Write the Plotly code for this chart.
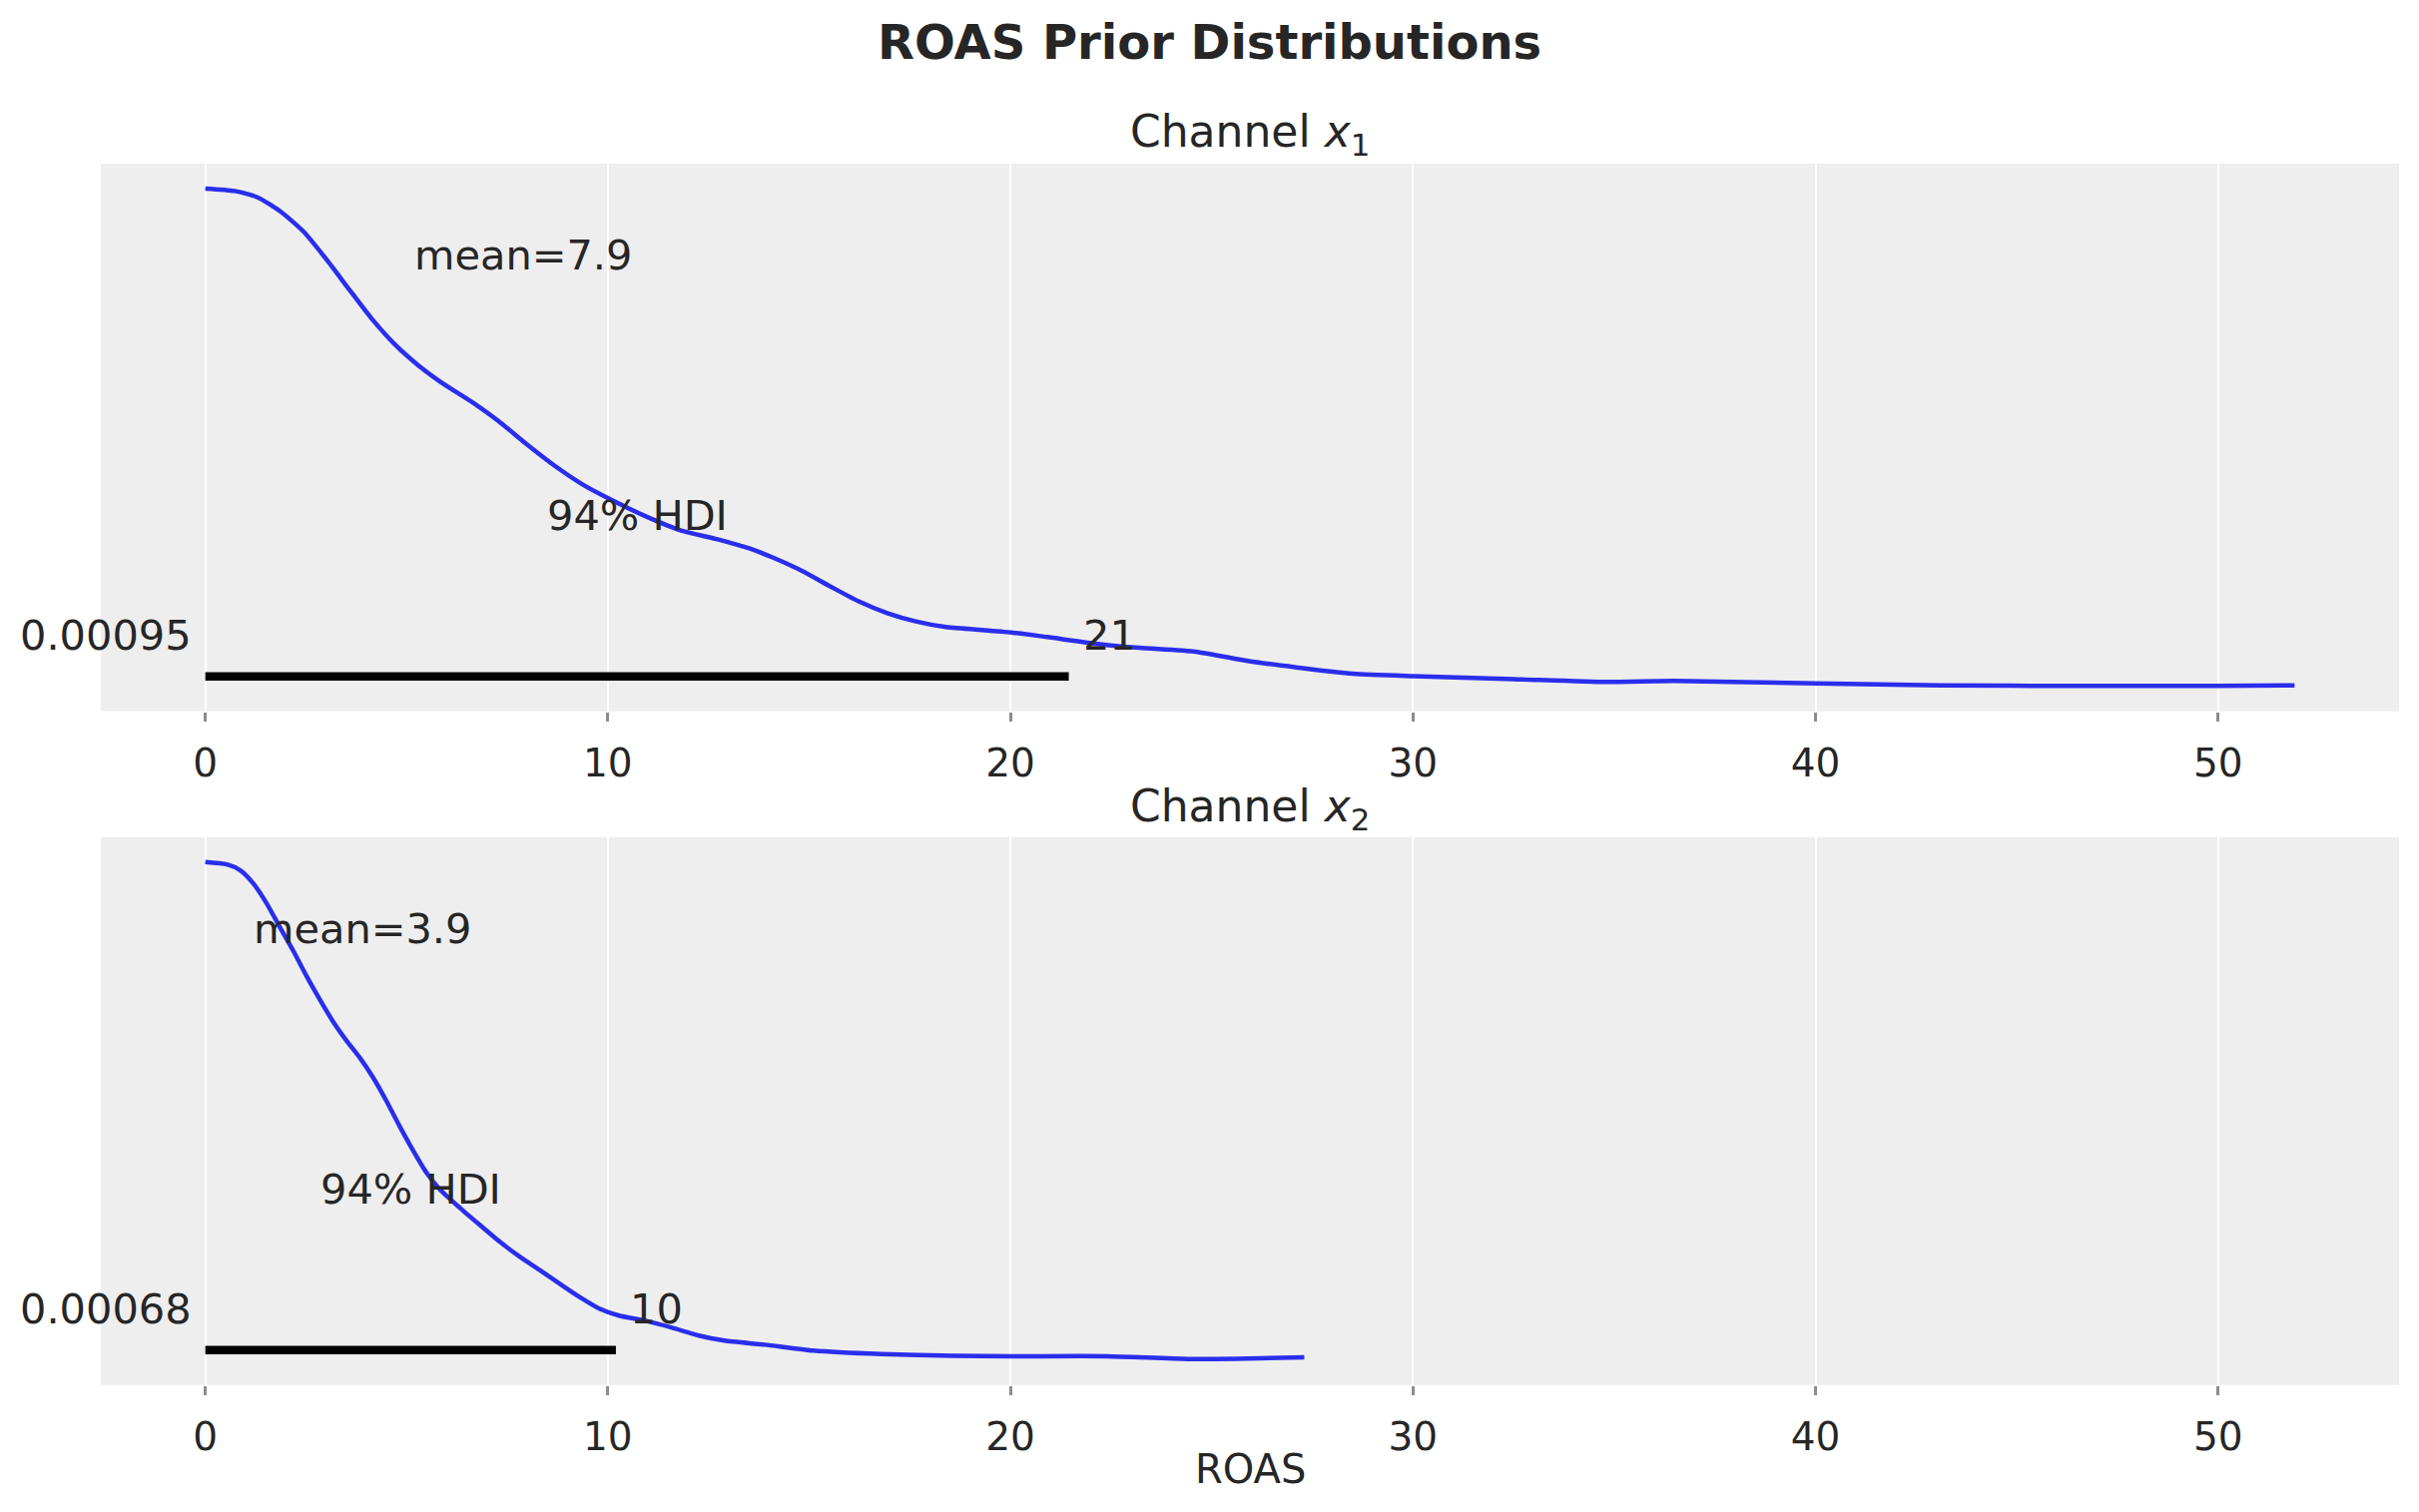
import plotly.graph_objects as go
from plotly.subplots import make_subplots

# ROAS prior density (KDE)
roas_x1 = [0.0, 0.73, 1.30, 1.87, 2.44, 3.00, 3.57, 4.14, 4.71, 5.28, 5.85,
           6.70, 7.27, 7.98, 8.69, 9.40, 10.11, 10.97, 11.82, 12.67, 13.53,
           14.09, 14.81, 15.52, 16.23, 16.94, 17.65, 18.36, 19.21, 20.07,
           20.92, 22.17, 23.2, 24.6, 25.9, 27.1, 28.5, 30.0, 32.5, 34.8, 36.5,
           40.0, 43.1, 46.6, 50.0, 51.9]
dens_x1 = [0.1019, 0.1014, 0.1001, 0.0972, 0.0931, 0.0875, 0.0813, 0.0752,
           0.0700, 0.0658, 0.0623, 0.0578, 0.0544, 0.0496, 0.0451, 0.0412,
           0.0381, 0.0347, 0.0319, 0.0302, 0.0282, 0.0264, 0.0237, 0.0205,
           0.0174, 0.0150, 0.0133, 0.0122, 0.0116, 0.0110, 0.0101, 0.0087,
           0.0079, 0.0071, 0.0052, 0.0039, 0.0026, 0.0021, 0.0015, 0.0009,
           0.0011, 0.0006, 0.0002, 0.0001, 0.0001, 0.0002]

roas_x2 = [0.0, 0.54, 0.87, 1.20, 1.53, 1.86, 2.19, 2.52, 2.85, 3.18, 3.51,
           3.84, 4.17, 4.50, 4.83, 5.16, 5.49, 5.82, 6.32, 6.81, 7.31, 7.80,
           8.30, 8.79, 9.29, 9.79, 10.28, 10.94, 11.60, 12.26, 12.9, 13.9,
           15.1, 16.8, 18.6, 20.0, 22.4, 24.4, 25.9, 27.3]
dens_x2 = [0.1850, 0.1841, 0.1819, 0.1769, 0.1695, 0.1606, 0.1519, 0.1425,
           0.1338, 0.1256, 0.1186, 0.1123, 0.1049, 0.0962, 0.0868, 0.0779,
           0.0697, 0.0635, 0.0566, 0.0503, 0.0440, 0.0385, 0.0335, 0.0285,
           0.0235, 0.0191, 0.0165, 0.0146, 0.0120, 0.0091, 0.0072, 0.0057,
           0.0035, 0.0022, 0.0016, 0.0014, 0.0014, 0.0004, 0.0006, 0.0010]

channels = ["Channel <i>x</i><sub>1</sub>", "Channel <i>x</i><sub>2</sub>"]
means = [7.9, 3.9]
hdi_low = [0.00095, 0.00068]
hdi_high = [21.45, 10.2]
xticks = [0, 10, 20, 30, 40, 50]

FONT = "DejaVu Sans"
TXT = "#262626"
BLUE = "#2a2eec"

# the page body has an 8px margin, so the figure is drawn inside it
OFF = 8
W, H = 2423 - 2 * OFF, 1515 - 2 * OFF


def fx(p):
    return (p - OFF) / W


def fy(p):
    return 1 - (p - OFF) / H


fig = make_subplots(rows=2, cols=1)

xs = [roas_x1, roas_x2]
ys = [dens_x1, dens_x2]

xmax = max(max(roas_x1), max(roas_x2))
xmin = min(min(roas_x1), min(roas_x2))
xpad = 0.05 * (xmax - xmin)

# page pixel positions of the two panels
panels = [(164, 712.7), (838.8, 1387.7)]
title_y = [134.5, 810]
left, right = 101, 2403
ann_font = dict(size=41.5, color=TXT, family=FONT)

annotations = []
for i in range(2):
    r = i + 1
    peak = max(ys[i])
    fig.add_trace(go.Scatter(x=xs[i], y=ys[i], mode="lines",
                             line=dict(color=BLUE, width=4.5, shape="spline",
                                       smoothing=0.6),
                             showlegend=False, hoverinfo="skip"), row=r, col=1)
    fig.add_trace(go.Scatter(x=[hdi_low[i], hdi_high[i]], y=[0.02 * peak] * 2,
                             mode="lines", line=dict(color="black", width=8.5),
                             showlegend=False, hoverinfo="skip"), row=r, col=1)

    xa = "x" if i == 0 else "x2"
    ya = "y" if i == 0 else "y2"
    annotations += [
        dict(x=means[i], y=0.866 * peak, xref=xa, yref=ya, yanchor="middle",
             text=f"mean={means[i]:.2g}", showarrow=False, font=ann_font),
        dict(x=(hdi_low[i] + hdi_high[i]) / 2, y=0.343 * peak, xref=xa, yref=ya,
             yanchor="middle", text="94% HDI", showarrow=False, font=ann_font),
        dict(x=hdi_low[i], y=0.102 * peak, xref=xa, yref=ya, xanchor="right",
             yanchor="middle", xshift=-12, text=f"{hdi_low[i]:.2g}",
             showarrow=False, font=ann_font),
        dict(x=hdi_high[i], y=0.102 * peak, xref=xa, yref=ya, xanchor="left",
             yanchor="middle", xshift=12, text=f"{hdi_high[i]:.2g}",
             showarrow=False, font=ann_font),
        dict(x=fx((left + right) / 2), y=fy(title_y[i]), xref="paper",
             yref="paper", text=channels[i], showarrow=False, yanchor="middle",
             font=dict(size=44, color=TXT, family=FONT)),
    ]

    top, bot = panels[i]
    fig.update_yaxes(row=r, col=1, domain=[fy(bot), fy(top)],
                     range=[-0.05 * peak, 1.05 * peak],
                     showticklabels=False, showgrid=False, zeroline=False,
                     ticks="")
    fig.update_xaxes(row=r, col=1, domain=[fx(left), fx(right)],
                     range=[xmin - xpad, xmax + xpad],
                     tickvals=xticks, ticks="outside", ticklen=9, tickwidth=2.5,
                     tickcolor="#8c8c8c", ticklabelstandoff=8,
                     showgrid=True, gridcolor="white",
                     gridwidth=2, zeroline=False, showline=False,
                     tickfont=dict(size=39, color=TXT, family=FONT))

annotations.append(dict(x=fx((left + right) / 2), y=fy(1472), xref="paper",
                        yref="paper", yanchor="middle", text="ROAS",
                        showarrow=False,
                        font=dict(size=40, color=TXT, family=FONT)))
annotations.append(dict(x=fx(2423 / 2), y=fy(42), xref="paper", yref="paper",
                        yanchor="middle",
                        text="<b>ROAS Prior Distributions</b>", showarrow=False,
                        font=dict(size=48, color=TXT, family=FONT)))

fig.update_layout(
    width=W, height=H,
    margin=dict(l=0, r=0, t=0, b=0),
    plot_bgcolor="#eeeeee",
    paper_bgcolor="white",
    font=dict(family=FONT, color=TXT),
    annotations=annotations,
)

fig.write_html("out.html")
